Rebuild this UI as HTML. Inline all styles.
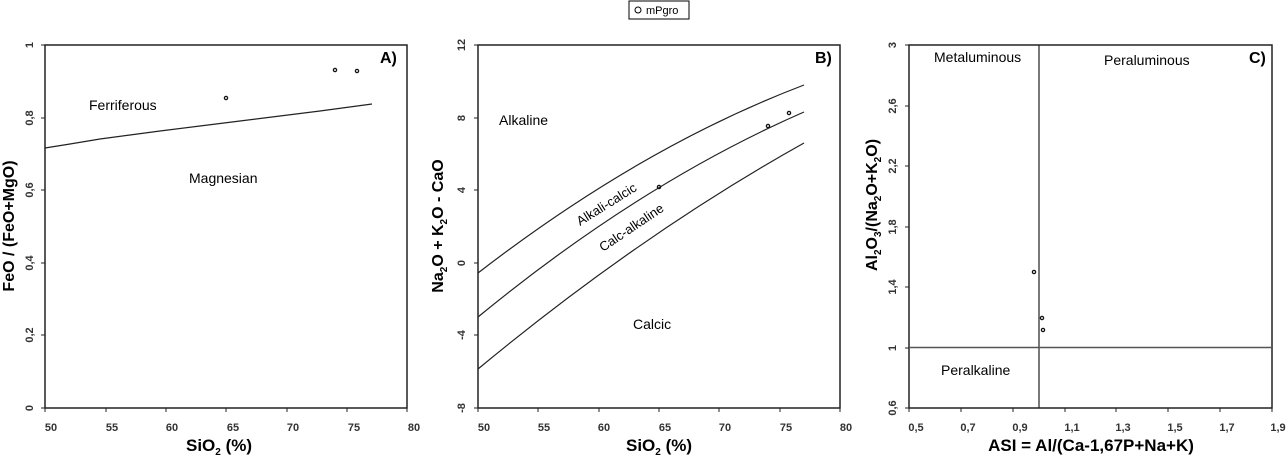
<!DOCTYPE html><html><head><style>body{margin:0;background:#fff}</style></head><body>
<svg width="1288" height="462" xmlns="http://www.w3.org/2000/svg" font-family="Liberation Sans, Arial, sans-serif">
<rect width="1288" height="462" fill="#fff"/>
<!-- legend -->
<rect x="629" y="1" width="60" height="18" fill="#fff" stroke="#000" stroke-width="1"/>
<circle cx="638" cy="10" r="3" fill="none" stroke="#000"/>
<text x="646" y="14" font-size="11">mPgro</text>

<!-- Panel A -->
<g stroke="#222" fill="none">
<rect x="45" y="45" width="362" height="363" stroke-width="1.5"/>
<path d="M45,148 L70,144 L100,139 L130,135 L160,131 L200,126 L240,121 L280,116 L320,111 L372,104" stroke-width="1.2"/>
</g>
<g fill="none" stroke="#111" stroke-width="1.3"><circle cx="226" cy="98" r="1.6"/><circle cx="335" cy="70" r="1.6"/><circle cx="357" cy="71" r="1.6"/></g>
<g font-size="11" font-weight="bold" fill="#333" text-anchor="middle">
<text x="51" y="431">50</text><text x="112" y="431">55</text><text x="172" y="431">60</text><text x="233" y="431">65</text><text x="293" y="431">70</text><text x="354" y="431">75</text><text x="414" y="431">80</text>
<g transform="translate(33,45) rotate(-90)"><text>1</text></g>
<g transform="translate(33,118) rotate(-90)"><text>0,8</text></g>
<g transform="translate(33,190) rotate(-90)"><text>0,6</text></g>
<g transform="translate(33,263) rotate(-90)"><text>0,4</text></g>
<g transform="translate(33,335) rotate(-90)"><text>0,2</text></g>
<g transform="translate(33,408) rotate(-90)"><text>0</text></g>
</g>
<g stroke="#222"><line x1="45" y1="408" x2="45" y2="412"/><line x1="106" y1="408" x2="106" y2="412"/><line x1="166" y1="408" x2="166" y2="412"/><line x1="226" y1="408" x2="226" y2="412"/><line x1="287" y1="408" x2="287" y2="412"/><line x1="347" y1="408" x2="347" y2="412"/><line x1="407" y1="408" x2="407" y2="412"/>
<line x1="41" y1="45" x2="45" y2="45"/><line x1="41" y1="118" x2="45" y2="118"/><line x1="41" y1="190" x2="45" y2="190"/><line x1="41" y1="263" x2="45" y2="263"/><line x1="41" y1="335" x2="45" y2="335"/><line x1="41" y1="408" x2="45" y2="408"/></g>
<text x="89" y="110" font-size="14">Ferriferous</text>
<text x="189" y="183" font-size="14">Magnesian</text>
<text x="380" y="63" font-size="16" font-weight="bold">A)</text>
<text x="219" y="451" font-size="17" font-weight="bold" text-anchor="middle">SiO<tspan font-size="10" dy="4">2</tspan><tspan dy="-4"> (%)</tspan></text>
<g transform="translate(14,226) rotate(-90)"><text font-size="16" font-weight="bold" text-anchor="middle">FeO / (FeO+MgO)</text></g>

<!-- Panel B -->
<g stroke="#222" fill="none">
<rect x="478" y="45" width="362" height="363" stroke-width="1.5"/>
<path d="M478,273 Q641,147 804,85" stroke-width="1.2"/>
<path d="M478,317 Q641,183 804,112" stroke-width="1.2"/>
<path d="M478,369 Q641,234 804,143" stroke-width="1.2"/>
</g>
<g fill="none" stroke="#111" stroke-width="1.3"><circle cx="659" cy="187" r="1.6"/><circle cx="768" cy="126" r="1.6"/><circle cx="789" cy="113" r="1.6"/></g>
<g font-size="11" font-weight="bold" fill="#333" text-anchor="middle">
<text x="484" y="431">50</text><text x="544" y="431">55</text><text x="604" y="431">60</text><text x="665" y="431">65</text><text x="725" y="431">70</text><text x="786" y="431">75</text><text x="846" y="431">80</text>
<g transform="translate(465,45) rotate(-90)"><text>12</text></g>
<g transform="translate(465,118) rotate(-90)"><text>8</text></g>
<g transform="translate(465,190) rotate(-90)"><text>4</text></g>
<g transform="translate(465,263) rotate(-90)"><text>0</text></g>
<g transform="translate(465,335) rotate(-90)"><text>-4</text></g>
<g transform="translate(465,408) rotate(-90)"><text>-8</text></g>
</g>
<g stroke="#222"><line x1="478" y1="408" x2="478" y2="412"/><line x1="538" y1="408" x2="538" y2="412"/><line x1="599" y1="408" x2="599" y2="412"/><line x1="659" y1="408" x2="659" y2="412"/><line x1="719" y1="408" x2="719" y2="412"/><line x1="780" y1="408" x2="780" y2="412"/><line x1="840" y1="408" x2="840" y2="412"/>
<line x1="474" y1="45" x2="478" y2="45"/><line x1="474" y1="118" x2="478" y2="118"/><line x1="474" y1="190" x2="478" y2="190"/><line x1="474" y1="263" x2="478" y2="263"/><line x1="474" y1="335" x2="478" y2="335"/><line x1="474" y1="408" x2="478" y2="408"/></g>
<text x="499" y="125" font-size="14">Alkaline</text>
<text x="633" y="329" font-size="14">Calcic</text>
<g transform="translate(580,226) rotate(-32)"><text font-size="13">Alkali-calcic</text></g>
<g transform="translate(603,252) rotate(-34)"><text font-size="13">Calc-alkaline</text></g>
<text x="815" y="63" font-size="16" font-weight="bold">B)</text>
<text x="659" y="451" font-size="17" font-weight="bold" text-anchor="middle">SiO<tspan font-size="10" dy="4">2</tspan><tspan dy="-4"> (%)</tspan></text>
<g transform="translate(443,226) rotate(-90)"><text font-size="16" font-weight="bold" text-anchor="middle">Na<tspan font-size="10" dy="4">2</tspan><tspan dy="-4">O + K</tspan><tspan font-size="10" dy="4">2</tspan><tspan dy="-4">O - CaO</tspan></text></g>

<!-- Panel C -->
<g stroke="#222" fill="none">
<rect x="909" y="45" width="363" height="363" stroke-width="1.5"/>
<line x1="1039" y1="45" x2="1039" y2="408" stroke-width="1.2"/>
<line x1="909" y1="347.5" x2="1272" y2="347.5" stroke="#555" stroke-width="1.5"/>
</g>
<g fill="none" stroke="#111" stroke-width="1.3"><circle cx="1034" cy="272" r="1.6"/><circle cx="1042" cy="318" r="1.6"/><circle cx="1043" cy="330" r="1.6"/></g>
<g font-size="11" font-weight="bold" fill="#333" text-anchor="middle">
<text x="916" y="431">0,5</text><text x="968" y="431">0,7</text><text x="1020" y="431">0,9</text><text x="1072" y="431">1,1</text><text x="1123" y="431">1,3</text><text x="1175" y="431">1,5</text><text x="1227" y="431">1,7</text><text x="1278" y="431">1,9</text>
<g transform="translate(896,45) rotate(-90)"><text>3</text></g>
<g transform="translate(896,106) rotate(-90)"><text>2,6</text></g>
<g transform="translate(896,166) rotate(-90)"><text>2,2</text></g>
<g transform="translate(896,227) rotate(-90)"><text>1,8</text></g>
<g transform="translate(896,287) rotate(-90)"><text>1,4</text></g>
<g transform="translate(896,348) rotate(-90)"><text>1</text></g>
<g transform="translate(896,408) rotate(-90)"><text>0,6</text></g>
</g>
<g stroke="#222"><line x1="909" y1="408" x2="909" y2="412"/><line x1="961" y1="408" x2="961" y2="412"/><line x1="1013" y1="408" x2="1013" y2="412"/><line x1="1065" y1="408" x2="1065" y2="412"/><line x1="1116" y1="408" x2="1116" y2="412"/><line x1="1168" y1="408" x2="1168" y2="412"/><line x1="1220" y1="408" x2="1220" y2="412"/><line x1="1272" y1="408" x2="1272" y2="412"/>
<line x1="905" y1="45" x2="909" y2="45"/><line x1="905" y1="106" x2="909" y2="106"/><line x1="905" y1="166" x2="909" y2="166"/><line x1="905" y1="227" x2="909" y2="227"/><line x1="905" y1="287" x2="909" y2="287"/><line x1="905" y1="348" x2="909" y2="348"/><line x1="905" y1="408" x2="909" y2="408"/></g>
<text x="934" y="62" font-size="14">Metaluminous</text>
<text x="1104" y="65" font-size="14">Peraluminous</text>
<text x="941" y="375" font-size="14">Peralkaline</text>
<text x="1249" y="63" font-size="16" font-weight="bold">C)</text>
<text x="1091" y="451" font-size="17" font-weight="bold" text-anchor="middle">ASI = Al/(Ca-1,67P+Na+K)</text>
<g transform="translate(877,205) rotate(-90)"><text font-size="16" font-weight="bold" text-anchor="middle">Al<tspan font-size="10" dy="4">2</tspan><tspan dy="-4">O</tspan><tspan font-size="10" dy="4">3</tspan><tspan dy="-4">/(Na</tspan><tspan font-size="10" dy="4">2</tspan><tspan dy="-4">O+K</tspan><tspan font-size="10" dy="4">2</tspan><tspan dy="-4">O)</tspan></text></g>
</svg>
</body></html>
